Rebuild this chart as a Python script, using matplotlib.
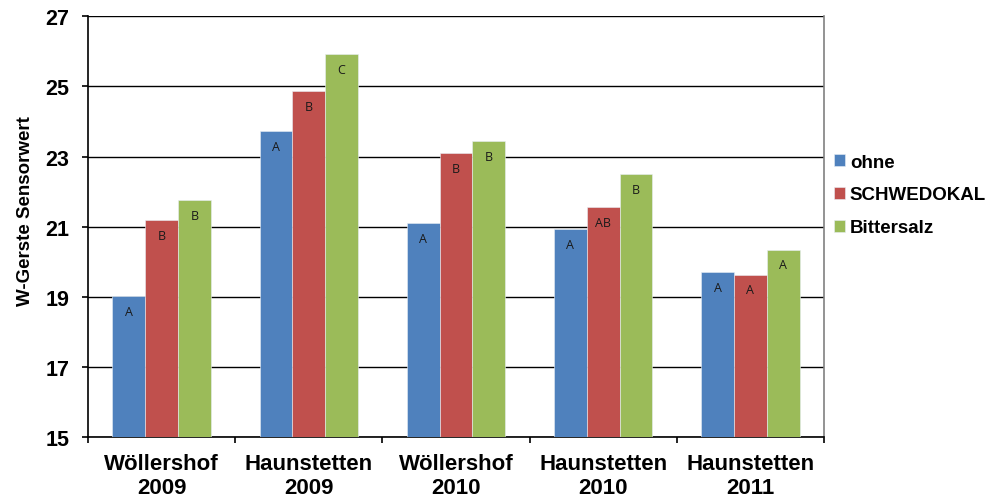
import matplotlib.pyplot as plt
import numpy as np

plt.rcParams['font.family'] = ['Liberation Sans', 'DejaVu Sans']

standorte = ["Wöllershof\n2009", "Haunstetten\n2009", "Wöllershof\n2010",
             "Haunstetten\n2010", "Haunstetten\n2011"]
varianten = ["ohne", "SCHWEDOKAL", "Bittersalz"]
ohne = [19.03, 23.73, 21.10, 20.93, 19.70]
schwedokal = [21.19, 24.87, 23.10, 21.56, 19.64]
bittersalz = [21.76, 25.91, 23.43, 22.50, 20.35]
sig_ohne = ["A", "A", "A", "A", "A"]
sig_schwedokal = ["B", "B", "B", "AB", "A"]
sig_bittersalz = ["B", "C", "B", "B", "A"]

farben = ["#4F81BD", "#C0504D", "#9BBB59"]

fig = plt.figure(figsize=(9.9, 5.02), dpi=100)
ax = fig.add_axes([0.0889, 0.1265, 0.7434, 0.8395])

x = np.arange(len(standorte))
w = 0.223
reihen = [ohne, schwedokal, bittersalz]
buchst = [sig_ohne, sig_schwedokal, sig_bittersalz]
for i, (werte, sig) in enumerate(zip(reihen, buchst)):
    pos = x + (i - 1) * w
    ax.bar(pos, werte, width=w, color=farben[i], label=varianten[i],
           edgecolor="#e8eef5", linewidth=0.4, zorder=3)
    for px, v, s in zip(pos, werte, sig):
        ax.annotate(s, (px, v), xytext=(0, -11), textcoords="offset points",
                    ha="center", va="center", fontsize=9,
                    family=["Open Sans", "DejaVu Sans"], color="#1a1a1a", zorder=4)

ax.set_ylim(15, 27)
ax.set_xlim(-0.5, 4.5)
ax.set_yticks(np.arange(15, 28, 2))
ax.yaxis.grid(True, color="black", linewidth=1.0, zorder=0)
ax.set_axisbelow(True)

ax.set_xticks(x)
ax.set_xticklabels(standorte, fontsize=16, fontweight="bold", linespacing=1.2)
ax.set_xticks(np.arange(-0.5, 5, 1), minor=True)
ax.tick_params(axis="x", which="major", length=0, pad=11)
ax.tick_params(axis="x", which="minor", length=4.5, width=1.2, direction="out")
ax.tick_params(axis="y", length=4.5, width=1.2, direction="out", pad=9,
               labelsize=15.5)
for lab in ax.get_yticklabels():
    lab.set_fontweight("bold")

ax.set_ylabel("W-Gerste Sensorwert", fontsize=13.5, fontweight="bold")
ax.yaxis.set_label_coords(-0.074, 0.54)

ax.spines["top"].set_visible(False)
ax.spines["right"].set_color("#808080")
ax.spines["right"].set_linewidth(1.2)
ax.spines["left"].set_linewidth(1.2)
ax.spines["bottom"].set_linewidth(1.2)

fig.legend(loc="center left", bbox_to_anchor=(0.8424, 0.6096), frameon=False,
           prop={"size": 13.5, "weight": "bold"}, handlelength=0.6,
           handleheight=0.6, handletextpad=0.25, labelspacing=0.85,
           borderpad=0, borderaxespad=0)

fig.savefig("out.png", dpi=100)
